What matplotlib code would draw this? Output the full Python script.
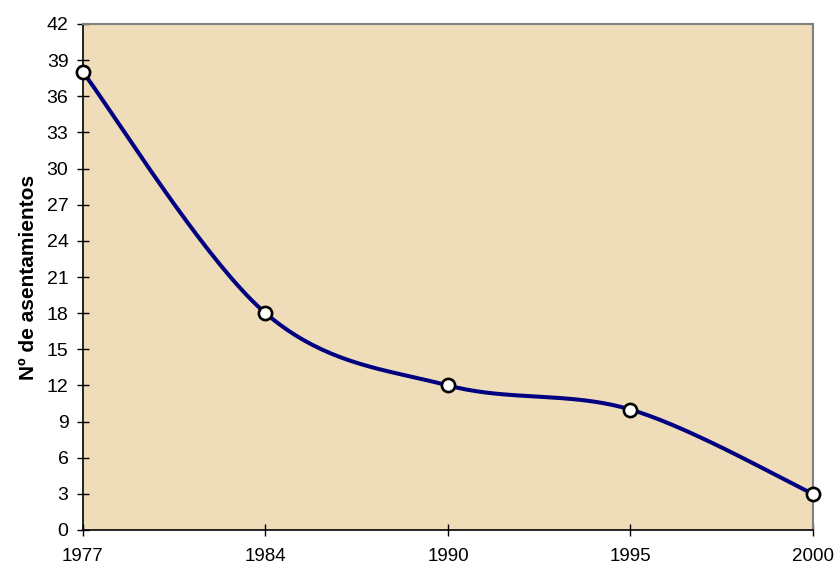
import numpy as np
import matplotlib
matplotlib.use("Agg")
import matplotlib.pyplot as plt

plt.rcParams["font.family"] = ["Liberation Sans", "DejaVu Sans"]

years = ["1977", "1984", "1990", "1995", "2000"]
asentamientos = [38, 18, 12, 10, 3]
y_ticks = list(range(0, 43, 3))

C_LINE = "#000080"
C_BG = "#EEDDB8"

# axes box in figure fractions (pixels of the 837x569 reference)
AX = [83 / 837, 1 - 530 / 569, 730 / 837, 506 / 569]


def smooth(xs, ys, n=40):
    """Excel-style smoothed line: cubic Bezier with Catmull-Rom tangents."""
    pts = np.column_stack([xs, ys]).astype(float)
    p = np.vstack([pts[0], pts, pts[-1]])
    out = []
    t = np.linspace(0, 1, n)[:, None]
    for i in range(1, len(p) - 2):
        p0, p1, p2, p3 = p[i - 1], p[i], p[i + 1], p[i + 2]
        c1 = p1 + (p2 - p0) / 6
        c2 = p2 - (p3 - p1) / 6
        seg = ((1 - t) ** 3) * p1 + 3 * ((1 - t) ** 2) * t * c1 \
            + 3 * (1 - t) * t ** 2 * c2 + t ** 3 * p2
        out.append(seg)
    return np.vstack(out)


fig = plt.figure(figsize=(8.37, 5.69), dpi=100)
ax = fig.add_axes(AX)
ax.set_facecolor(C_BG)

xs = np.arange(len(years))
xmax, ymax = len(years) - 1, 42
ax.set_xlim(0, xmax)
ax.set_ylim(0, ymax)

# smooth in screen-pixel space so the curve shape matches the display
w_px, h_px = AX[2] * 837, AX[3] * 569
curve = smooth(xs / xmax * w_px, np.array(asentamientos) / ymax * h_px)
ax.plot(curve[:, 0] / w_px * xmax, curve[:, 1] / h_px * ymax,
        color=C_LINE, lw=2.9, zorder=3, clip_on=False,
        solid_capstyle="round")
ax.plot(xs, asentamientos, ls="", marker="o", ms=9.5, mfc="white",
        mec="black", mew=1.9, zorder=4, clip_on=False)

ax.set_xticks(xs)
ax.set_xticklabels(years)
ax.set_yticks(y_ticks)
ax.tick_params(axis="both", direction="inout", length=9, width=1,
               labelsize=14)
ax.tick_params(axis="y", pad=6)
ax.tick_params(axis="x", pad=8.5, labelsize=13.5)
ax.set_ylabel("Nº de asentamientos", fontsize=15, fontweight="bold",
              labelpad=6)

for s in ("left", "bottom"):
    ax.spines[s].set_color("black")
    ax.spines[s].set_linewidth(1.2)
for s in ("top", "right"):
    ax.spines[s].set_color("#808080")
    ax.spines[s].set_linewidth(1.5)

fig.savefig("out.png", dpi=100)
